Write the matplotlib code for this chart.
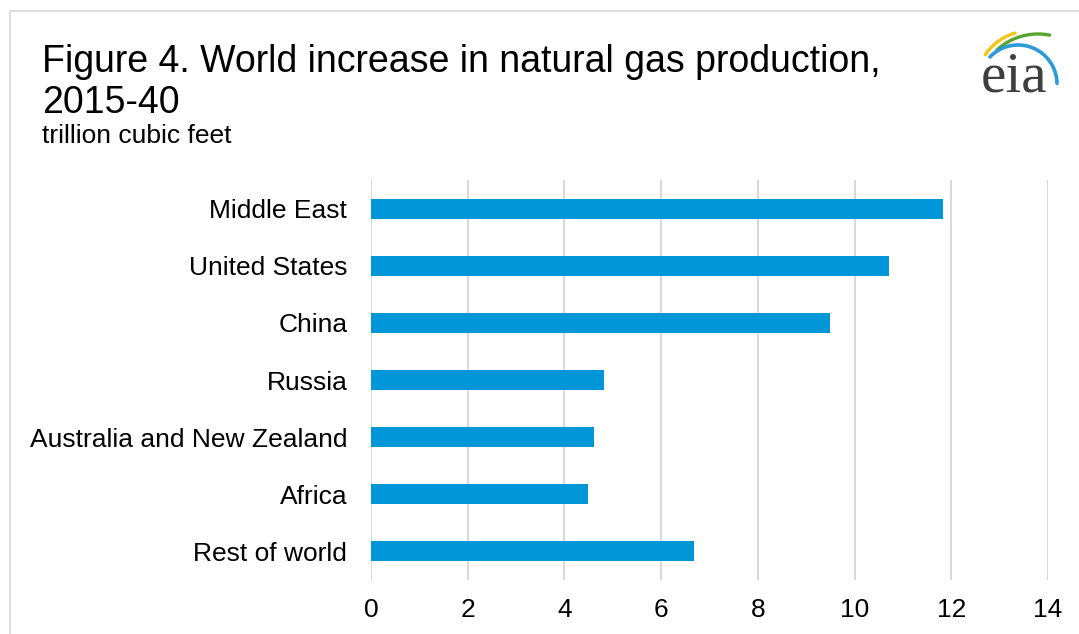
import numpy as np
import matplotlib.pyplot as plt
from matplotlib.patches import Rectangle

plt.rcParams['font.family'] = ['Liberation Sans', 'DejaVu Sans']

# regions listed top to bottom
regions = ['Middle East', 'United States', 'China', 'Russia',
           'Australia and New Zealand', 'Africa', 'Rest of world']
increase = [11.83, 10.71, 9.49, 4.82, 4.61, 4.49, 6.68]
xticks = [0, 2, 4, 6, 8, 10, 12, 14]

fig = plt.figure(figsize=(10.79, 6.34), dpi=100)
ax = fig.add_axes([0.3438, 0.0852, 0.6275, 0.6308])

ypos = list(range(len(regions)))[::-1]
ax.barh(ypos, increase, height=0.35, color='#0096d7', zorder=3)
ax.set_ylim(-0.5, len(regions) - 0.5)
ax.set_xlim(0, 14)
ax.set_xticks(xticks)
ax.set_yticks(ypos)
ax.set_yticklabels(regions)
ax.tick_params(axis='y', length=0, pad=17, labelsize=19)
ax.tick_params(axis='x', length=0, pad=13, labelsize=19)
ax.grid(axis='x', color='#d9d9d9', linewidth=1.5, zorder=0)
for s in ax.spines.values():
    s.set_visible(False)

# outer frame
fig.patches.append(Rectangle((10 / 1079, -0.1), 1.2, 1 - 11 / 634 + 0.1,
                             transform=fig.transFigure, fill=False,
                             edgecolor='#d9d9d9', linewidth=1.2))

fig.text(42 / 1079, 1 - 72 / 634,
         'Figure 4. World increase in natural gas production,',
         fontsize=27, va='baseline')
fig.text(42 / 1079, 1 - 113 / 634, '2015-40', fontsize=27, va='baseline')
fig.text(42 / 1079, 1 - 143 / 634, 'trillion cubic feet', fontsize=19,
         va='baseline')

# eia logo, drawn in pixel units (y pointing down)
lax = fig.add_axes([960 / 1079, 1 - 105 / 634, 110 / 1079, 85 / 634])
lax.set_xlim(960, 1070)
lax.set_ylim(105, 20)
lax.axis('off')
lax.text(1014, 92, 'eia', fontsize=41, family='Liberation Serif',
         color='#3f3f3f', ha='center', va='baseline')


def swoosh(cx, cy, r, a0, a1, color, lw):
    t = np.radians(np.linspace(a0, a1, 60))
    lax.plot(cx + r * np.cos(t), cy - r * np.sin(t), color=color,
             linewidth=lw, solid_capstyle='round')


swoosh(1030, 85, 54, 106, 146, '#f5c518', 2.4)
swoosh(1038, 95, 61, 79, 132, '#5aa52d', 2.4)
swoosh(1018, 84, 39, 1, 136, '#2a9ad8', 2.6)

fig.savefig('out.png', dpi=100)
